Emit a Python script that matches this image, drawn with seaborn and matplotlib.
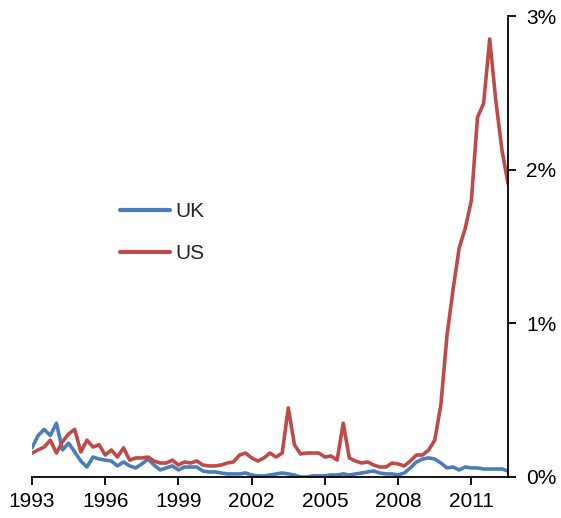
import numpy as np
import pandas as pd
import matplotlib
matplotlib.use("Agg")
import matplotlib.pyplot as plt
import seaborn as sns

# quarterly series, 1993 Q1 .. 2012 Q3 (values in %)
start_year = 1993
uk = [0.19, 0.27, 0.31, 0.27, 0.35, 0.176, 0.22, 0.163, 0.104, 0.065,
      0.13, 0.117, 0.11, 0.104, 0.072, 0.098, 0.072, 0.059, 0.085, 0.117,
      0.078, 0.046, 0.059, 0.072, 0.046, 0.065, 0.065, 0.065, 0.039, 0.033,
      0.033, 0.026, 0.02, 0.02, 0.02, 0.026, 0.013, 0.007, 0.007, 0.013,
      0.02, 0.026, 0.02, 0.013, 0.0, 0.0, 0.007, 0.007, 0.007, 0.013,
      0.013, 0.02, 0.013, 0.02, 0.026, 0.033, 0.039, 0.026, 0.02, 0.02,
      0.013, 0.026, 0.059, 0.098, 0.117, 0.124, 0.117, 0.091, 0.059, 0.065,
      0.046, 0.065, 0.059, 0.059, 0.052, 0.052, 0.052, 0.052, 0.039]
us = [0.156, 0.176, 0.195, 0.24, 0.156, 0.23, 0.28, 0.31, 0.163, 0.24,
      0.195, 0.21, 0.143, 0.176, 0.13, 0.19, 0.11, 0.124, 0.124, 0.13,
      0.104, 0.091, 0.091, 0.11, 0.078, 0.098, 0.091, 0.104, 0.078, 0.072,
      0.072, 0.078, 0.091, 0.098, 0.143, 0.156, 0.124, 0.104, 0.124, 0.156,
      0.13, 0.156, 0.45, 0.21, 0.15, 0.156, 0.156, 0.156, 0.13, 0.137,
      0.11, 0.35, 0.124, 0.104, 0.091, 0.098, 0.078, 0.065, 0.065, 0.091,
      0.085, 0.072, 0.104, 0.143, 0.143, 0.176, 0.24, 0.47, 0.92, 1.22,
      1.49, 1.62, 1.80, 2.34, 2.43, 2.85, 2.45, 2.13, 1.91]
year_ticks = [1993, 1996, 1999, 2002, 2005, 2008, 2011]
pct_ticks = [0, 1, 2, 3]

t = start_year + np.arange(len(uk)) * 0.25
df = pd.DataFrame({
    "t": np.concatenate([t, t]),
    "value": uk + us,
    "country": ["UK"] * len(uk) + ["US"] * len(us),
})

sns.set_style("white")
plt.rcParams["font.family"] = ["Liberation Sans", "DejaVu Sans"]

fig = plt.figure(figsize=(5.61, 5.18), dpi=100)
ax = fig.add_axes([32 / 561, 1 - 477 / 518, 476 / 561, 461 / 518])

sns.lineplot(data=df, x="t", y="value", hue="country",
             palette={"UK": "#4A7EBB", "US": "#BE4B48"},
             linewidth=2.6, ax=ax)

ax.set_xlim(t[0], t[-1])
ax.set_ylim(0, 3)
ax.set_xlabel("")
ax.set_ylabel("")

for s in ["left", "top"]:
    ax.spines[s].set_visible(False)
for s in ["bottom", "right"]:
    ax.spines[s].set_visible(True)
    ax.spines[s].set_color("black")
    ax.spines[s].set_linewidth(1.3)

ax.set_xticks(year_ticks)
ax.set_xticklabels([str(y) for y in year_ticks])
ax.yaxis.tick_right()
ax.set_yticks(pct_ticks)
ax.set_yticklabels([f"{p}%" for p in pct_ticks])
ax.tick_params(axis="both", which="major", labelsize=15, direction="out",
               length=6, width=1.3, color="black", labelcolor="black")
ax.tick_params(axis="x", bottom=True, pad=5)
ax.tick_params(axis="y", right=True, left=False, pad=7)
ax.grid(False)

leg = ax.legend(loc="center left", bbox_to_anchor=(0.185, 0.53),
                frameon=False, fontsize=15, handlelength=2.4,
                handletextpad=0.25, labelspacing=1.1, borderpad=0,
                borderaxespad=0)
for line in leg.get_lines():
    line.set_linewidth(3)

fig.savefig("out.png", dpi=100)
